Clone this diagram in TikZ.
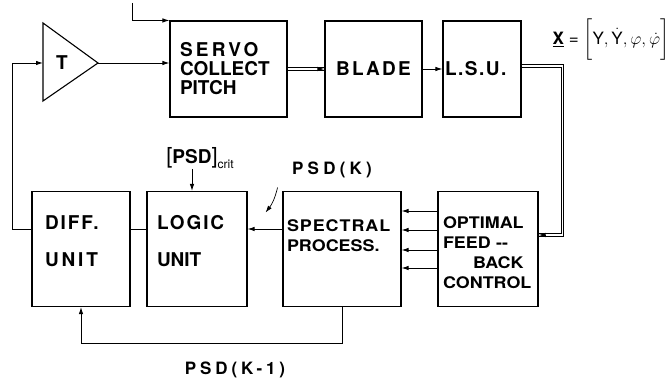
\documentclass[tikz,border=0pt]{standalone}
\usepackage{fontspec}
\usepackage{amsmath}
\setmainfont{TeX Gyre Heros}
\newfontfamily\widefont[FakeStretch=1.12]{TeX Gyre Heros}
\newcommand\tracked[2]{{\addfontfeatures{LetterSpace=#1}#2}}
\usetikzlibrary{arrows.meta,calc}

\begin{document}
\begin{tikzpicture}[x=1pt, y=-1pt,
  every node/.style={font=\bfseries\fontsize{19}{19}\selectfont},
  block/.style={draw, line width=1.1pt, inner ysep=0pt, align=left},
  wide/.style={font=\widefont\bfseries\fontsize{16}{20}\selectfont},
  lbl/.style={font=\bfseries\fontsize{17}{17}\selectfont},
  arrow/.style={-{Latex[length=7pt,width=4.5pt]}, line width=0.9pt},
  line/.style={line width=0.9pt},
  dbl/.style={double, double distance=1.5pt, line width=0.8pt}
]
\useasboundingbox (0,0) rectangle (669,387);

\coordinate (ampin) at (43,63);
\coordinate (ampout) at (98,63);
\draw[line width=1.1pt, line join=miter] (43,23) -- (ampout) -- (43,101) -- cycle;
\node (amp) at (62,63) {T};
\node[block, minimum height=96pt, text width=97pt, inner xsep=10pt] (servo) at (228.5,69) {\tracked{17}{SERVO}\\COLLECT\\PITCH};
\node[block, minimum width=97pt, minimum height=96pt, align=center] (blade) at (373.5,69) {\tracked{12}{BLADE}};
\node[block, minimum height=96pt, text width=74pt, inner xsep=2pt] (lsu) at (482,69) {\tracked{8}{L.S.U.}};

\node[block, wide, minimum height=115pt, text width=90pt, inner xsep=5pt, text depth=52pt] (optfb) at (488,249) {OPTIMAL\\FEED\ --\\\hspace*{30pt}BACK\\CONTROL};
\node[block, wide, minimum height=115pt, text width=110pt, inner xsep=4pt, text depth=46pt] (spectral) at (342,249) {\tracked{6}{SPECTRAL}\\PROCESS.};
\node[block, minimum height=115pt, text width=80pt, inner xsep=10pt, text depth=53pt] (logic) at (197,249) {\tracked{10}{LOGIC}\\[18pt]UNIT};
\node[block, minimum height=115pt, text width=72pt, inner xsep=13pt, text depth=53pt] (diff) at (81,249) {\tracked{10}{DIFF.}\\[18pt]\tracked{15}{UNIT}};

\node[font=\mdseries\fontsize{17}{17}\selectfont] (xvec) at (611,40) {\textbf{\underline{X}} = $\biggl[\text{Y},\dot{\text{Y}},\varphi,\dot{\varphi}\biggr]$};
\node[inner sep=0pt] (psdcrit) at (200,158) {{\mdseries\fontsize{22}{22}\selectfont[}PSD{\mdseries\fontsize{22}{22}\selectfont]}\raisebox{-5pt}{\mdseries\fontsize{12}{12}\selectfont crit}};
\node[lbl] (psdk) at (332,170) {\tracked{25}{PSD(K)}};
\node[lbl] (psdkm) at (235,370) {\tracked{23}{PSD(K-1)}};

\coordinate (cmd) at (132,3);
\coordinate (critin) at ($(logic.north)+(-5,0)$);

\draw[arrow] (cmd) |- (servo.north west);
\draw[arrow] (ampout) -- (ampout -| servo.west);
\draw[dbl] (servo) -- (blade);
\draw[arrow] ($(blade.west)+(-6,0)$) -- (blade.west);
\draw[arrow] (blade) -- (lsu);
\draw[dbl] ($(lsu.east)+(0,-3)$) -- ++(41,0) |- ($(optfb.east)+(0,-14)$);
\draw[arrow] ($(optfb.east)+(6,-14)$) -- ($(optfb.east)+(0,-14)$);
\foreach \dy in {-38,-19,1,19}
  \draw[arrow] ($(optfb.west)+(0,\dy)$) -- ($(spectral.east)+(0,\dy)$);
\draw[arrow] ($(spectral.west)+(0,-20)$) -- ($(logic.east)+(0,-20)$);
\draw[line] ($(diff.east)+(0,-20)$) -- ($(logic.west)+(0,-20)$);
\draw[arrow] (critin |- psdcrit.south) -- (critin);
\draw[arrow] ($(diff.west)+(0,-20)$) -- ++(-19,0) |- (ampin);
\draw[arrow] (spectral.south) -- ++(0,36) -| (diff.south);
\draw[arrow, line width=0.7pt] ($(psdk.south west)+(-11,6)$) to[bend left=12] ($(psdk.south west)+(-23,31)$);
\end{tikzpicture}
\end{document}
